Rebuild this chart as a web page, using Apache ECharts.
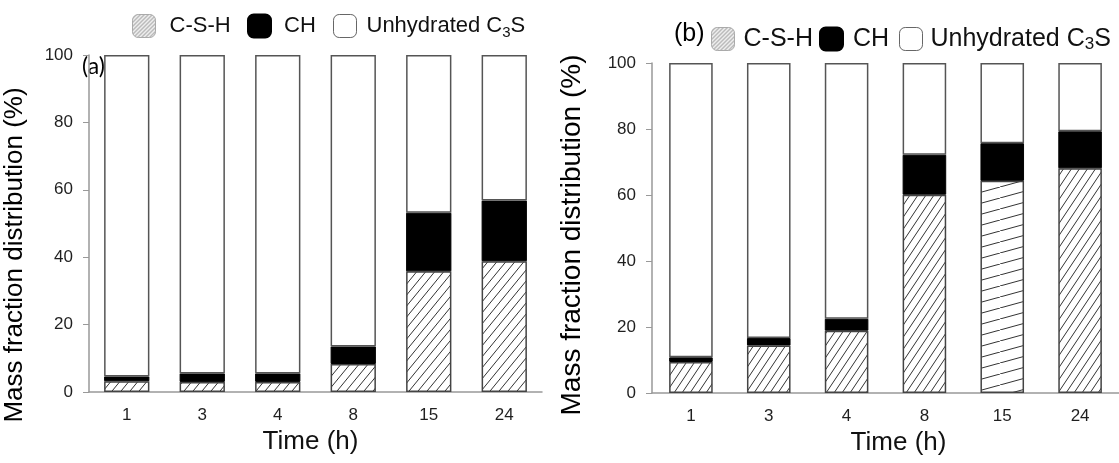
<!DOCTYPE html>
<html>
<head>
<meta charset="utf-8">
<script src="https://cdn.jsdelivr.net/npm/echarts@6/dist/echarts.min.js"></script>
<style>
  html, body { margin: 0; padding: 0; background: #fff; }
  #chart { width: 1119px; height: 463px; }
</style>
</head>
<body>
<div id="chart"></div>
<script>
const times = ['1', '3', '4', '8', '15', '24'];
const yTicks = [0, 20, 40, 60, 80, 100];

// panel (a)
const cshA = [3.2, 3.0, 3.0, 8.3, 35.8, 38.8];
const chA = [1.4, 2.5, 2.5, 5.2, 17.4, 18.0];
const unhydA = [95.4, 94.5, 94.5, 86.5, 46.8, 43.2];

// panel (b)
const cshB = [9.4, 14.4, 18.9, 60.1, 64.3, 68.1];
const chB = [1.4, 2.3, 3.6, 12.1, 11.4, 11.2];
const unhydB = [89.2, 83.3, 77.5, 27.8, 24.3, 20.7];

const FONT = '"Liberation Sans", Arial, sans-serif';
const UNHYD = 'Unhydrated C3S';

// diagonal hatch tile, line from bottom-left to top-right
function hatch(w, h, color, lw, bg) {
  const c = document.createElement('canvas');
  c.width = w;
  c.height = h;
  const ctx = c.getContext('2d');
  ctx.fillStyle = bg || '#fff';
  ctx.fillRect(0, 0, w, h);
  ctx.strokeStyle = color;
  ctx.lineWidth = lw;
  ctx.beginPath();
  [-w, 0, w].forEach(dx => {
    ctx.moveTo(dx, h);
    ctx.lineTo(dx + w, 0);
  });
  ctx.stroke();
  return { image: c, repeat: 'repeat' };
}

const hatchA = hatch(9, 11, '#333', 1);
const hatchB = hatch(8, 12, '#333', 1);
const hatchFlat = hatch(40, 11, '#333', 1);
const hatchLegend = hatch(4, 4, '#888', 1, '#eee');

function bars(idx, csh, ch, unhyd, cshColor, special) {
  const stack = 'p' + idx;
  const base = { type: 'bar', stack, xAxisIndex: idx, yAxisIndex: idx, barCategoryGap: idx ? '44%' : '40%' };
  return [
    Object.assign({}, base, {
      name: 'C-S-H',
      data: csh.map((v, i) => (special && special[i] ? { value: v, itemStyle: { color: special[i] } } : v)),
      itemStyle: { color: cshColor, borderColor: '#444', borderWidth: 1.5 }
    }),
    Object.assign({}, base, {
      name: 'CH',
      data: ch,
      itemStyle: { color: '#000', borderColor: '#000', borderWidth: 1 }
    }),
    Object.assign({}, base, {
      name: UNHYD,
      data: unhyd,
      itemStyle: { color: '#fff', borderColor: '#555', borderWidth: 1.5 }
    })
  ];
}

function legendItem(name, left, top, size, pad, icon) {
  return {
    left, top, padding: 0,
    itemWidth: 23, itemHeight: 23,
    data: [icon ? { name, itemStyle: icon } : name],
    formatter: n => (n === UNHYD ? 'Unhydrated C{s|3}S' : n),
    textStyle: {
      fontFamily: FONT, fontSize: size, color: '#111', padding: [0, 0, 0, pad], lineHeight: 28,
      rich: { s: { fontFamily: FONT, fontSize: Math.round(size * 0.68), lineHeight: 28, verticalAlign: 'bottom', color: '#111' } }
    }
  };
}

function xAxis(idx, padLeft) {
  return {
    type: 'category', gridIndex: idx, data: times,
    name: 'Time (h)', nameLocation: 'middle', nameGap: 36,
    nameTextStyle: { fontFamily: FONT, fontSize: 26, color: '#111', padding: [0, 0, 0, padLeft] },
    axisLine: { lineStyle: { color: '#999', width: 1.5 } },
    axisTick: { alignWithLabel: true, length: 6, lineStyle: { color: '#777' } },
    axisLabel: { fontFamily: FONT, fontSize: 17, color: '#1f1f1f', margin: 15 }
  };
}

function yAxis(idx) {
  return {
    type: 'value', gridIndex: idx, min: yTicks[0], max: yTicks[yTicks.length - 1], interval: 20,
    splitLine: { show: false },
    axisLine: { show: true, lineStyle: { color: '#999', width: 1.5 } },
    axisTick: { show: true, length: 6, lineStyle: { color: '#999' } },
    axisLabel: { fontFamily: FONT, fontSize: 17, color: '#1f1f1f', margin: 16 }
  };
}

const chart = echarts.init(document.getElementById('chart'));
chart.setOption({
  animation: false,
  backgroundColor: '#fff',
  grid: [
    { left: 89, right: 577, top: 55, bottom: 71 },
    { left: 652, right: 0, top: 63, bottom: 70 }
  ],
  xAxis: [xAxis(0, -10), xAxis(1, 26)],
  yAxis: [yAxis(0), yAxis(1)],
  legend: [
    legendItem('C-S-H', 132, 12, 22, 9, { color: hatchLegend, borderColor: '#aaa', borderWidth: 1 }),
    legendItem('CH', 247, 12, 22, 8),
    legendItem(UNHYD, 333, 12, 22, 5, { color: '#fff', borderColor: '#666', borderWidth: 1 }),
    legendItem('C-S-H', 711, 25, 25, 4, { color: hatchLegend, borderColor: '#aaa', borderWidth: 1 }),
    legendItem('CH', 819, 25, 25, 5),
    legendItem(UNHYD, 899, 25, 25, 3, { color: '#fff', borderColor: '#666', borderWidth: 1 })
  ],
  graphic: [
    { type: 'text', left: 82, top: 55, style: { text: '(a)', fontFamily: 'Lato, "Open Sans", sans-serif', fontSize: 23, fill: '#000' } },
    { type: 'text', left: 674, top: 22, style: { text: '(b)', fontFamily: FONT, fontSize: 25, fill: '#000' } },
    {
      type: 'text', x: 15, y: 255, rotation: Math.PI / 2,
      style: { text: 'Mass fraction distribution (%)', fontFamily: FONT, fontSize: 26, fill: '#000', align: 'center', verticalAlign: 'middle' }
    },
    {
      type: 'text', x: 572, y: 235, rotation: Math.PI / 2,
      style: { text: 'Mass fraction distribution (%)', fontFamily: FONT, fontSize: 28, fill: '#000', align: 'center', verticalAlign: 'middle' }
    }
  ],
  series: [
    ...bars(0, cshA, chA, unhydA, hatchA),
    ...bars(1, cshB, chB, unhydB, hatchB, [null, null, null, null, hatchFlat, null])
  ]
});
</script>
</body>
</html>
